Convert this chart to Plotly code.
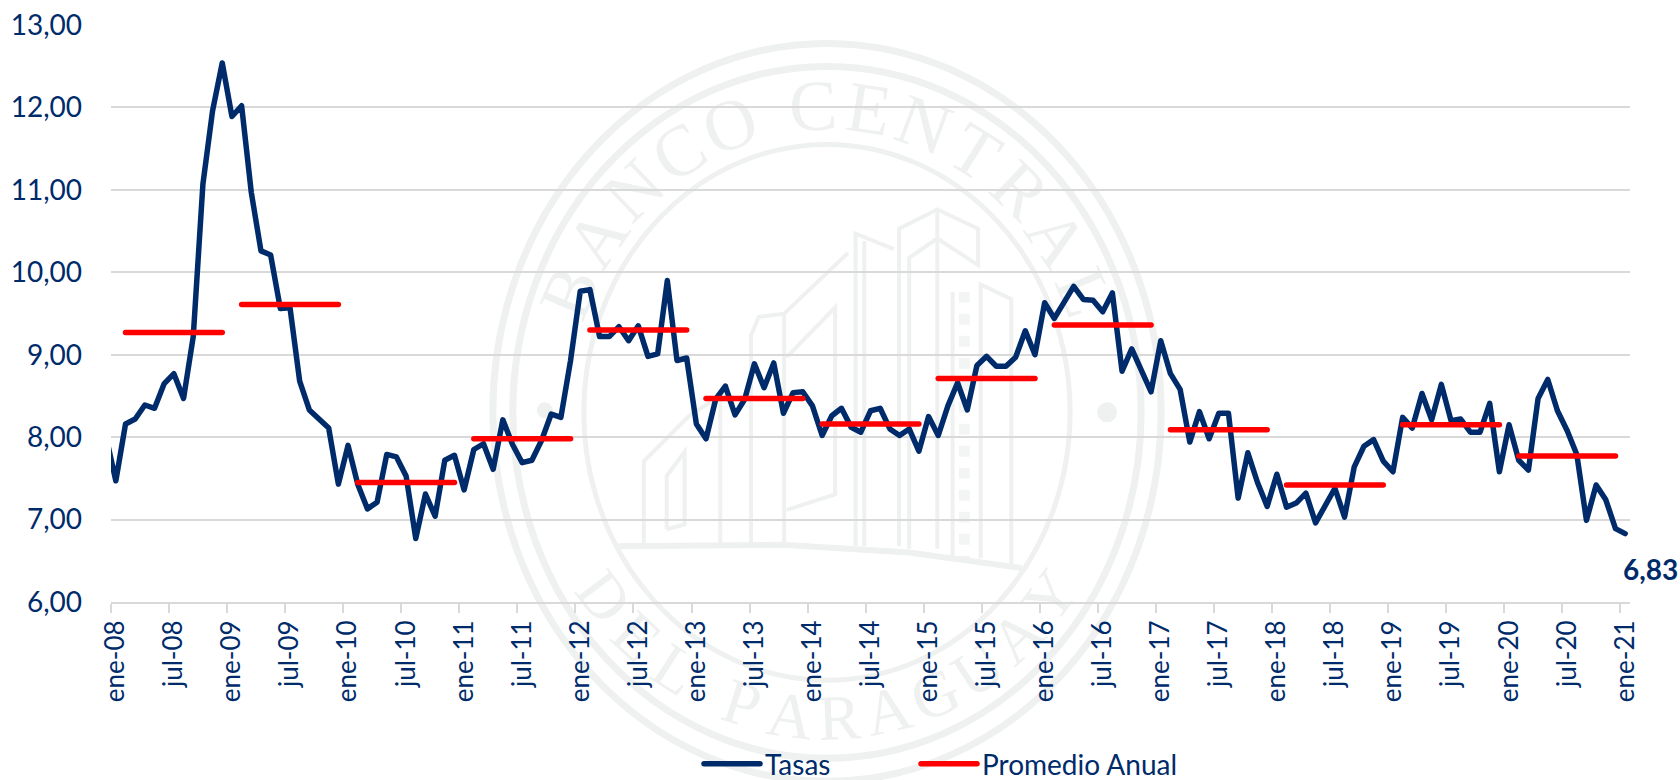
import math
import plotly.graph_objects as go

# ---------- DATA ----------
MESES = ["ene", "feb", "mar", "abr", "may", "jun", "jul", "ago", "sep", "oct", "nov", "dic"]
YEARS = list(range(2008, 2021))
categorias = ["dic-07"] + [f"{m}-{str(a)[2:]}" for a in YEARS for m in MESES] + ["ene-21"]

# Dec-07 lies outside the visible range: the line enters through the left edge
tasa_previa = [8.00]
tasas_2008 = [7.47, 8.16, 8.22, 8.39, 8.35, 8.65, 8.77, 8.47, 9.22, 11.07, 11.96, 12.54]
tasas_2009 = [11.89, 12.02, 10.97, 10.26, 10.21, 9.56, 9.57, 8.68, 8.33, 8.22, 8.11, 7.43]
tasas_2010 = [7.90, 7.43, 7.13, 7.21, 7.79, 7.76, 7.53, 6.77, 7.31, 7.04, 7.72, 7.78]
tasas_2011 = [7.36, 7.85, 7.92, 7.61, 8.21, 7.91, 7.69, 7.72, 7.96, 8.28, 8.24, 8.93]
tasas_2012 = [9.77, 9.79, 9.22, 9.22, 9.34, 9.17, 9.35, 8.98, 9.01, 9.90, 8.93, 8.96]
tasas_2013 = [8.16, 7.98, 8.46, 8.62, 8.27, 8.46, 8.89, 8.60, 8.90, 8.29, 8.54, 8.55]
tasas_2014 = [8.38, 8.02, 8.26, 8.35, 8.12, 8.06, 8.32, 8.35, 8.10, 8.02, 8.10, 7.83]
tasas_2015 = [8.25, 8.02, 8.38, 8.66, 8.33, 8.87, 8.98, 8.86, 8.86, 8.97, 9.29, 9.00]
tasas_2016 = [9.63, 9.44, 9.64, 9.83, 9.67, 9.66, 9.52, 9.75, 8.80, 9.07, 8.81, 8.55]
tasas_2017 = [9.17, 8.77, 8.58, 7.94, 8.31, 7.98, 8.29, 8.29, 7.26, 7.81, 7.45, 7.16]
tasas_2018 = [7.55, 7.15, 7.20, 7.32, 6.96, 7.17, 7.38, 7.03, 7.64, 7.89, 7.97, 7.71]
tasas_2019 = [7.58, 8.24, 8.11, 8.53, 8.21, 8.64, 8.20, 8.22, 8.06, 8.06, 8.41, 7.58]
tasas_2020 = [8.15, 7.72, 7.60, 8.47, 8.70, 8.32, 8.08, 7.79, 6.99, 7.42, 7.24, 6.89]
tasas_2021 = [6.83]

promedio_anual = [9.27, 9.61, 7.45, 7.98, 9.30, 8.47, 8.16, 8.71, 9.36, 8.09, 7.42, 8.15, 7.77]

tasas = (tasa_previa + tasas_2008 + tasas_2009 + tasas_2010 + tasas_2011 + tasas_2012 + tasas_2013
         + tasas_2014 + tasas_2015 + tasas_2016 + tasas_2017 + tasas_2018 + tasas_2019 + tasas_2020 + tasas_2021)

# annual mean drawn from February to December of each year, with a gap in January
promedio = [None]
for valor in promedio_anual:
    promedio += [None] + [valor] * 11
promedio += [None]

# ---------- STYLE ----------
NAVY = "#002B6B"
RED = "#FF0000"
GRID = "#D9D9D9"
WM = "#EEF1F0"
WM_SOFT = "#F3F5F4"
FONT = "Lato"
L, R, T, B = 111.4, 1629.6, 24.6, 601.7
W, H = 1680, 780


def px(x):
    return (x - L) / (R - L)


def py(y):
    return (B - y) / (B - T)


fig = go.Figure()
fig.add_trace(go.Scatter(x=categorias, y=tasas, name="Tasas", mode="lines", legend="legend",
                         line=dict(color=NAVY, width=5.5), hoverinfo="skip"))
fig.add_trace(go.Scatter(x=categorias, y=promedio, name="Promedio Anual", mode="lines", legend="legend2",
                         connectgaps=False, line=dict(color=RED, width=5.5), hoverinfo="skip"))

# ---------- WATERMARK (seal) ----------
shapes = []
CX, CY = 827, 412


def ring(rx, ry, w):
    shapes.append(dict(type="circle", xref="paper", yref="paper", layer="below",
                       x0=px(CX - rx), x1=px(CX + rx), y0=py(CY + ry), y1=py(CY - ry),
                       line=dict(color=WM, width=w)))


ring(334, 369, 7)
ring(314, 346, 7)
ring(243, 268, 5)


def zx(v):
    return 450 + v / 1.96


def zy(v):
    return 20 + v / 2.063


def poly(points, w=4, dash=None, color=WM):
    d = "M " + " L ".join(f"{px(zx(a)):.5f} {py(zy(b)):.5f}" for a, b in points)
    shapes.append(dict(type="path", path=d, xref="paper", yref="paper", layer="below",
                       line=dict(color=color, width=w, dash=dash or "solid")))


poly([(880, 1085), (880, 430), (955, 390), (1035, 430), (1035, 505), (955, 450), (900, 490), (900, 1090)])
poly([(955, 390), (955, 1090)])
poly([(795, 1085), (795, 440), (870, 472)])
poly([(812, 1085), (812, 455)])
poly([(780, 480), (655, 605), (605, 612), (590, 650), (590, 1080)])
poly([(655, 605), (655, 1080)])
poly([(660, 695), (755, 592), (755, 978), (660, 1010)])
poly([(380, 1080), (380, 910), (470, 815), (530, 775)])
poly([(425, 1050), (425, 940), (460, 890), (460, 1040), (425, 1050)])
poly([(530, 775), (530, 1080)])
poly([(1040, 1110), (1040, 545), (1100, 575), (1100, 1130)])
poly([(985, 560), (985, 1110)], w=4)
poly([(1008, 560), (1008, 1110)], w=11, dash="dot", color=WM_SOFT)
poly([(330, 1085), (650, 1082), (900, 1098), (1120, 1130)], w=6)

for dx, dy, r in [(1107, 412, 10), (545, 410, 8)]:
    shapes.append(dict(type="circle", xref="paper", yref="paper", layer="below",
                       x0=px(dx - r), x1=px(dx + r), y0=py(dy + r), y1=py(dy - r),
                       fillcolor=WM, line=dict(color=WM, width=0)))

annotations = []


def arc_steps(text, span):
    """Angles for each letter along an arc, with the word space counted as half a letter."""
    weights = [0.5 if c == " " else 1.0 for c in text]
    total = sum(weights) - 1.0
    pos, out = 0.0, []
    for w in weights:
        out.append(-span / 2 + span * pos / total)
        pos += w
    return out


top_text = "BANCO CENTRAL"
for ch, th in zip(top_text, arc_steps(top_text, 134)):
    if ch == " ":
        continue
    r = math.radians(th)
    annotations.append(dict(text=ch, xref="paper", yref="paper", showarrow=False,
                            x=px(CX + 279 * math.sin(r)), y=py(CY - 307 * math.cos(r)),
                            xanchor="center", yanchor="middle", textangle=th,
                            font=dict(family="Liberation Serif", size=72, color=WM)))
bot_text = "DEL PARAGUAY"
for ch, ph in zip(bot_text, arc_steps(bot_text, 106)):
    if ch == " ":
        continue
    r = math.radians(ph)
    annotations.append(dict(text=ch, xref="paper", yref="paper", showarrow=False,
                            x=px(CX + 279 * math.sin(r)), y=py(CY + 306 * math.cos(r)),
                            xanchor="center", yanchor="middle", textangle=-ph,
                            font=dict(family="Liberation Serif", size=64, color=WM)))

# end-of-series data label
etiqueta = f"{tasas[-1]:.2f}".replace(".", ",")
annotations.append(dict(text=f"<b>{etiqueta}</b>", xref="paper", yref="paper", showarrow=False,
                        x=px(1650.5), y=py(569), xanchor="center", yanchor="middle",
                        font=dict(family=FONT, size=28, color=NAVY)))

legend_common = dict(orientation="h", xref="container", yref="container", xanchor="left",
                     yanchor="middle", y=1 - 764 / H, itemwidth=56,
                     font=dict(family=FONT, size=28, color=NAVY), bgcolor="rgba(0,0,0,0)")

fig.update_layout(
    width=W, height=H, autosize=False,
    margin=dict(l=L, r=W - R, t=T, b=H - B, pad=0, autoexpand=False),
    paper_bgcolor="white", plot_bgcolor="rgba(0,0,0,0)",
    separators=",.",
    font=dict(family=FONT, color=NAVY, size=27),
    shapes=shapes, annotations=annotations,
    showlegend=True,
    legend=dict(x=(704 - 5) / W, **legend_common),
    legend2=dict(x=(921 - 5) / W, **legend_common),
    xaxis=dict(type="category", categoryorder="array", categoryarray=categorias,
               range=[0.5, 157.5], tickmode="linear", tick0=1, dtick=6, automargin=False,
               tickson="boundaries", ticks="outside", ticklen=9, tickwidth=1.5, tickcolor=GRID,
               tickangle=-90, tickfont=dict(family=FONT, size=26, color=NAVY), ticklabelstandoff=6,
               showgrid=False, showline=True, linecolor=GRID, linewidth=2, zeroline=False),
    yaxis=dict(range=[6, 13], tick0=6, dtick=1, tickformat=".2f", automargin=False,
               tickfont=dict(family=FONT, size=28, color=NAVY), ticks="", ticklabelstandoff=28,
               showgrid=True, gridcolor=GRID, gridwidth=2, showline=False, zeroline=False),
)

post = """
document.body.style.margin = '0';
function finish() {
  var below = document.querySelector('.main-svg .layer-below');
  var notes = document.querySelectorAll('.infolayer .annotation');
  notes.forEach(function (n) { if (below) below.appendChild(n); });
  document.querySelectorAll('path.js-line, .legendlines path').forEach(function (p) {
    p.style.strokeLinecap = 'round';
    p.style.strokeLinejoin = 'round';
  });
}
finish();
setTimeout(finish, 50);
setTimeout(finish, 300);
"""
fig.write_html("out.html", config={"displayModeBar": False}, post_script=post)
